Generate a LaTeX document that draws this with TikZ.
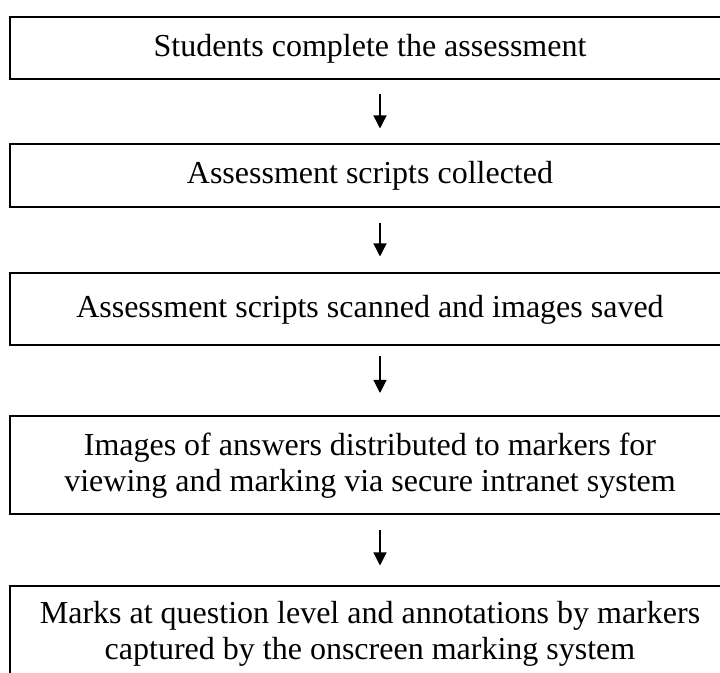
\documentclass[tikz,border=0pt]{standalone}
\usepackage{fontspec}
\setmainfont{Liberation Serif}
\usetikzlibrary{positioning,arrows.meta}

\tikzset{
  stepbox/.style={draw, line width=1pt, minimum width=360pt, inner sep=0pt,
    align=center, font=\fontsize{16}{18}\selectfont},
  flowarrow/.style={-{Triangle[length=6.5pt,width=6.5pt]}, line width=0.6pt}
}

\begin{document}
\begin{tikzpicture}[x=0.5pt,y=-0.5pt]
\useasboundingbox (0,0) rectangle (720,673);
\clip (0,0) rectangle (720,673);

\node[stepbox, minimum height=31pt, anchor=north west] (complete) at (9,16.5)
    {Students complete the assessment};
\node[stepbox, minimum height=31.5pt, below=31.5pt of complete] (collected)
    {Assessment scripts collected};
\node[stepbox, minimum height=36pt, below=32pt of collected] (scanned)
    {Assessment scripts scanned and images saved};
\node[stepbox, minimum height=49.25pt, below=34.25pt of scanned] (distributed)
    {Images of answers distributed to markers for\\viewing and marking via secure intranet system};
\node[stepbox, minimum height=47pt, below=35pt of distributed] (captured)
    {Marks at question level and annotations by markers\\captured by the onscreen marking system};

% arrows between the steps
\foreach \a/\b/\s/\e in {complete/collected/7pt/7.5pt, collected/scanned/7.5pt/8pt,
    scanned/distributed/5pt/11pt, distributed/captured/7.5pt/10pt}
    \draw [flowarrow, shorten <=\s, shorten >=\e] ([xshift=5pt]\a.south) -- ([xshift=5pt]\b.north);

\end{tikzpicture}
\end{document}
